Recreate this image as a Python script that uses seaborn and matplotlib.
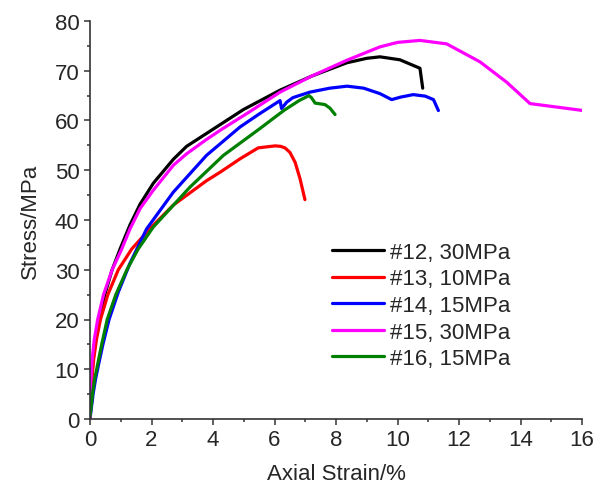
import numpy as np
import pandas as pd
import seaborn as sns
import matplotlib
matplotlib.use('Agg')
import matplotlib.pyplot as plt
from matplotlib.ticker import MultipleLocator

labels = ['#12, 30MPa', '#13, 10MPa', '#14, 15MPa', '#15, 30MPa', '#16, 15MPa']
colors = ['#000000', '#ff0000', '#0000ff', '#ff00ff', '#008000']

strain_12 = [0.00, 0.02, 0.05, 0.10, 0.18, 0.30, 0.48, 0.72, 0.98, 1.30, 1.63, 2.06, 2.71,
             3.14, 3.79, 4.99, 6.18, 7.20, 8.35, 9.00, 9.43, 10.08, 10.73, 10.82]
stress_12 = [0, 4, 8, 12, 16, 20, 25, 30, 34.2, 39.0, 43.2, 47.4, 52.2,
             54.8, 57.4, 62.2, 66.1, 68.9, 71.6, 72.5, 72.8, 72.2, 70.5, 66.5]

strain_13 = [0.00, 0.02, 0.06, 0.12, 0.21, 0.34, 0.58, 0.92, 1.36, 2.00, 2.71, 3.79, 4.23,
             4.88, 5.47, 6.02, 6.20, 6.34, 6.50, 6.67, 6.83, 6.99]
stress_13 = [0, 4, 8, 12, 16, 20, 25, 30, 34.2, 38.6, 43.0, 47.9, 49.6,
             52.3, 54.5, 54.9, 54.8, 54.5, 53.6, 51.6, 48.3, 44.1]

strain_14 = [0.00, 0.04, 0.10, 0.18, 0.28, 0.42, 0.62, 0.92, 1.30, 1.84, 2.71, 3.79, 4.88,
             5.50, 6.18, 6.23, 6.40, 6.60, 7.15, 7.80, 8.36, 8.90, 9.43, 9.81, 10.10, 10.51,
             10.90, 11.17, 11.33]
stress_14 = [0, 2, 5, 8, 11, 15, 20, 25.5, 31.3, 38.2, 45.6, 53.0, 58.7,
             61.3, 64.0, 62.4, 63.7, 64.6, 65.7, 66.5, 66.9, 66.5, 65.4, 64.2, 64.7, 65.2,
             64.9, 64.2, 62.0]

strain_15 = [0.00, 0.01, 0.03, 0.07, 0.14, 0.25, 0.44, 0.72, 1.02, 1.30, 1.63, 2.06, 2.71,
             3.14, 3.79, 4.30, 5.10, 6.18, 7.20, 8.35, 9.43, 10.00, 10.73, 11.60, 12.68,
             13.55, 14.31, 16.04]
stress_15 = [0, 4, 8, 12, 16, 20, 25, 30, 34, 38.2, 42.3, 46.0, 51.0,
             53.3, 56.2, 58.3, 61.4, 65.7, 68.9, 72.1, 74.8, 75.7, 76.1, 75.4, 71.8,
             67.7, 63.4, 62.0]

strain_16 = [0.00, 0.03, 0.08, 0.15, 0.25, 0.38, 0.56, 0.84, 1.20, 1.57, 2.06, 3.25, 4.34,
             5.53, 6.30, 6.80, 7.12, 7.20, 7.32, 7.64, 7.80, 7.97]
stress_16 = [0.5, 2, 5, 8, 11, 15, 20, 25, 30, 34.2, 38.6, 46.6, 53.0,
             58.4, 62.0, 64.0, 65.0, 64.6, 63.5, 63.2, 62.5, 61.2]

series = [(strain_12, stress_12), (strain_13, stress_13), (strain_14, stress_14),
          (strain_15, stress_15), (strain_16, stress_16)]

frames = []
for lab, (x, y) in zip(labels, series):
    frames.append(pd.DataFrame({'strain': x, 'stress': y, 'sample': lab}))
df = pd.concat(frames, ignore_index=True)

sns.set_style('ticks')
plt.rcParams['font.family'] = ['Liberation Sans', 'DejaVu Sans']

fig, ax = plt.subplots(figsize=(5.94, 4.89), dpi=100)
fig.subplots_adjust(left=90/594, right=582/594, bottom=69/489, top=467/489)

sns.lineplot(data=df, x='strain', y='stress', hue='sample', hue_order=labels,
             palette=dict(zip(labels, colors)), sort=False, estimator=None,
             linewidth=2.3, ax=ax)

ax.set_xlim(0, 16)
ax.set_ylim(0, 80)
ax.xaxis.set_major_locator(MultipleLocator(2))
ax.xaxis.set_minor_locator(MultipleLocator(1))
ax.yaxis.set_major_locator(MultipleLocator(10))
ax.yaxis.set_minor_locator(MultipleLocator(5))
ax.tick_params(which='major', length=4, width=1.1, labelsize=16, color='#333333')
ax.tick_params(which='minor', length=2.5, width=1.1, color='#333333')
sns.despine(ax=ax)
for side in ['left', 'bottom']:
    ax.spines[side].set_linewidth(1.2)
    ax.spines[side].set_color('#333333')

ax.set_xlabel('Axial Strain/%', fontsize=16, labelpad=9)
ax.set_ylabel('Stress/MPa', fontsize=16, labelpad=10)

handles, labs = ax.get_legend_handles_labels()
ax.legend(handles, labs, loc='upper left', bbox_to_anchor=(0.492, 0.445),
          frameon=False, fontsize=16, handlelength=2.35, handletextpad=0.25,
          labelspacing=0.25, borderpad=0, borderaxespad=0)

fig.savefig('out.png', dpi=100)
